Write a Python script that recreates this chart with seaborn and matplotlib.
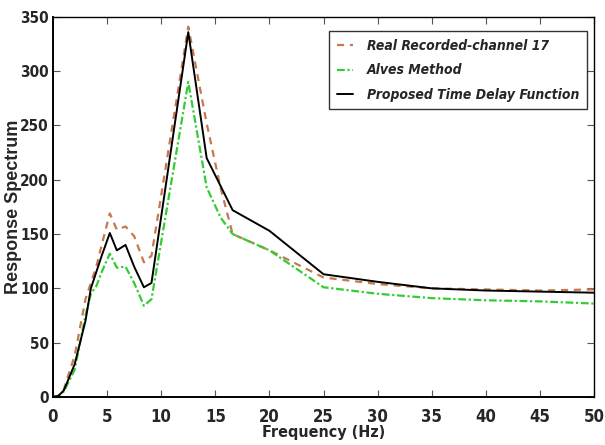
import matplotlib
matplotlib.use("Agg")
import matplotlib.pyplot as plt
import seaborn as sns
import pandas as pd

freq = [0, 0.5, 1, 2, 3, 3.5, 4, 4.5, 5.25, 5.9, 6.7, 7.5, 8.4, 9.1,
        12.5, 14.2, 15.5, 16.6, 20, 25, 30, 35, 40, 45, 50]
real_recorded = [0, 1, 7, 38, 90, 105, 120, 140, 169, 154, 157, 148, 124, 130,
                 341, 252, 192, 150, 135, 110, 104, 100, 99, 98, 99]
alves = [0, 1, 5, 25, 75, 95, 102, 115, 132, 119, 120, 105, 84, 90,
         290, 193, 165, 150, 135, 101, 95, 91, 89, 88, 86]
proposed = [0, 1, 6, 30, 70, 100, 115, 130, 151, 135, 140, 120, 101, 105,
            336, 220, 194, 172, 153, 113, 106, 100, 98, 97, 96]

labels = ["Real Recorded-channel 17", "Alves Method", "Proposed Time Delay Function"]
xticks = [0, 5, 10, 15, 20, 25, 30, 35, 40, 45, 50]
yticks = [0, 50, 100, 150, 200, 250, 300, 350]

sns.set_style("white")
FAM = ["DejaVu Sans", "Liberation Sans"]
plt.rcParams["font.family"] = FAM
plt.rcParams["font.stretch"] = "condensed"

fig, ax = plt.subplots(figsize=(6.05, 4.45), dpi=100)
fig.subplots_adjust(left=0.0876, right=0.982, top=0.962, bottom=0.108)

df = pd.DataFrame({"f": freq, "real": real_recorded, "alves": alves, "prop": proposed})

sns.lineplot(data=df, x="f", y="real", ax=ax, color="#c8784f", lw=1.6,
             label=labels[0])
ax.lines[-1].set_dashes((3.2, 2.6))
sns.lineplot(data=df, x="f", y="alves", ax=ax, color="#33cc33", lw=1.6,
             label=labels[1])
ax.lines[-1].set_dashes((3.5, 1.2, 1.0, 1.2))
sns.lineplot(data=df, x="f", y="prop", ax=ax, color="black", lw=1.4,
             label=labels[2])

ax.set_xlim(0, 50)
ax.set_ylim(0, 350)
ax.set_xticks(xticks)
ax.set_yticks(yticks)
ax.set_xticklabels([str(t) for t in xticks], fontsize=12, fontweight="bold",
                   fontstretch="condensed")
ax.set_yticklabels([str(t) for t in yticks], fontsize=11, fontweight="bold",
                   fontstretch="condensed")
ax.tick_params(axis="both", direction="in", length=5, width=0.8, color="#555555",
               top=True, right=True, bottom=True, left=True)
ax.tick_params(axis="x", pad=8)
ax.tick_params(axis="y", pad=3)

for s in ax.spines.values():
    s.set_visible(True)
    s.set_color("black")
    s.set_linewidth(1.0)
ax.spines["left"].set_linewidth(1.4)
ax.spines["bottom"].set_linewidth(1.4)

ax.set_xlabel("Frequency (Hz)", fontsize=11.5, fontweight="bold",
              fontstretch="condensed", labelpad=-1)
ax.set_ylabel("Response Spectrum", fontsize=13, fontweight="bold",
              family=["Liberation Sans", "DejaVu Sans"], fontstretch="normal")
ax.yaxis.set_label_coords(-0.058, 0.5)

leg = ax.legend(loc="upper right", bbox_to_anchor=(0.987, 0.962), borderaxespad=0,
                frameon=True, fancybox=False, handlelength=1.2, handletextpad=1.0,
                labelspacing=0.75, borderpad=0.55,
                prop={"family": FAM, "weight": "bold", "style": "italic", "size": 10,
                      "stretch": "condensed"})
leg.get_frame().set_edgecolor("black")
leg.get_frame().set_linewidth(1.0)

fig.savefig("out.png", dpi=100)
